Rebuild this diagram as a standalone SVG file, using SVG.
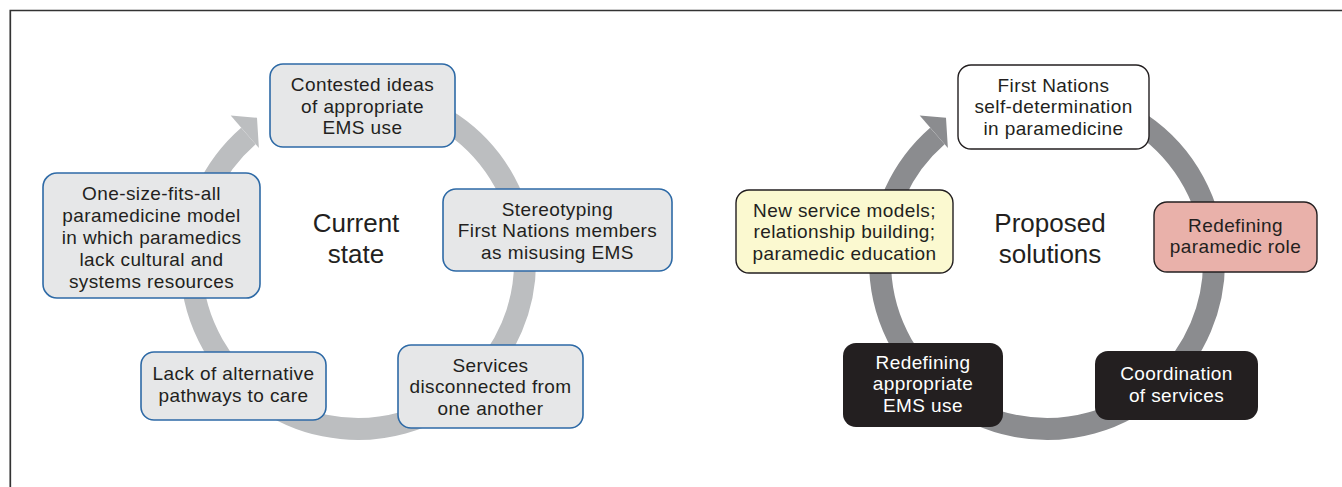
<svg xmlns="http://www.w3.org/2000/svg" width="1342" height="487" viewBox="0 0 1342 487">
<style>
.t{font-family:"Liberation Sans",Arial,Helvetica,sans-serif;font-size:19px;letter-spacing:0.4px;fill:#231f20;text-anchor:middle}
.w{fill:#ffffff}
.big{font-family:"Liberation Sans",Arial,Helvetica,sans-serif;font-size:26px;fill:#231f20;text-anchor:middle}
.lb{fill:#e6e7e8;stroke:#2e6aa6;stroke-width:1.6}
.rb{stroke:#231f20;stroke-width:1.4}
</style>
<rect width="1342" height="487" fill="#ffffff"/>
<path d="M10.3,487 V10.5 H1342" fill="none" stroke="#333333" stroke-width="1.7"/>
<g id="connectors">
<path d="M387,97.5 A167,167 0 1 1 248.4,136" fill="none" stroke="#bcbec0" stroke-width="22"/>
<polygon points="230.7,115.6 257,117.8 258.9,148" fill="#bcbec0"/>
<path d="M1076,97.5 A167,167 0 1 1 937.4,136" fill="none" stroke="#8b8c8f" stroke-width="22"/>
<polygon points="919.7,115.6 946,117.8 947.9,148" fill="#8b8c8f"/>
</g>
<g id="label-current">
<text class="big" x="356" y="232">Current</text>
<text class="big" x="356" y="263">state</text>
</g>
<g id="label-proposed">
<text class="big" x="1050" y="232">Proposed</text>
<text class="big" x="1050" y="263">solutions</text>
</g>
<g id="n-contested">
<rect class="lb" x="270" y="64" width="185" height="83" rx="13"/>
<text class="t" x="362.5" y="91">Contested ideas</text>
<text class="t" x="362.5" y="112.5">of appropriate</text>
<text class="t" x="362.5" y="134">EMS use</text>
</g>
<g id="n-onesize">
<rect class="lb" x="43" y="173" width="217" height="125" rx="14"/>
<text class="t" x="151.5" y="199.5">One-size-fits-all</text>
<text class="t" x="151.5" y="221.5">paramedicine model</text>
<text class="t" x="151.5" y="243.5">in which paramedics</text>
<text class="t" x="151.5" y="265.5">lack cultural and</text>
<text class="t" x="151.5" y="287.5">systems resources</text>
</g>
<g id="n-stereotyping">
<rect class="lb" x="443" y="189" width="229" height="82" rx="13"/>
<text class="t" x="557.5" y="215.5">Stereotyping</text>
<text class="t" x="557.5" y="237">First Nations members</text>
<text class="t" x="557.5" y="258.5">as misusing EMS</text>
</g>
<g id="n-lack">
<rect class="lb" x="141" y="352" width="185" height="68" rx="13"/>
<text class="t" x="233.5" y="380">Lack of alternative</text>
<text class="t" x="233.5" y="401.5">pathways to care</text>
</g>
<g id="n-services">
<rect class="lb" x="398" y="345" width="185" height="83" rx="13"/>
<text class="t" x="490.5" y="371.5">Services</text>
<text class="t" x="490.5" y="393">disconnected from</text>
<text class="t" x="490.5" y="414.5">one another</text>
</g>
<g id="n-firstnations">
<rect class="rb" fill="#ffffff" x="958" y="65" width="191" height="84" rx="13"/>
<text class="t" x="1053.5" y="91.5">First Nations</text>
<text class="t" x="1053.5" y="113">self-determination</text>
<text class="t" x="1053.5" y="134.5">in paramedicine</text>
</g>
<g id="n-newservice">
<rect class="rb" fill="#fbf9d0" x="736" y="190" width="217" height="83" rx="13"/>
<text class="t" x="844.5" y="216.5">New service models;</text>
<text class="t" x="844.5" y="238">relationship building;</text>
<text class="t" x="844.5" y="259.5">paramedic education</text>
</g>
<g id="n-redefrole">
<rect class="rb" fill="#e9b1aa" x="1154" y="202" width="163" height="70" rx="13"/>
<text class="t" x="1235.5" y="231.5">Redefining</text>
<text class="t" x="1235.5" y="253">paramedic role</text>
</g>
<g id="n-redefems">
<rect fill="#231f20" x="843" y="343" width="160" height="84" rx="13"/>
<text class="t w" x="923" y="368.5">Redefining</text>
<text class="t w" x="923" y="390">appropriate</text>
<text class="t w" x="923" y="411.5">EMS use</text>
</g>
<g id="n-coordination">
<rect fill="#231f20" x="1095" y="351" width="163" height="69" rx="13"/>
<text class="t w" x="1176.5" y="380">Coordination</text>
<text class="t w" x="1176.5" y="401.5">of services</text>
</g>
</svg>
